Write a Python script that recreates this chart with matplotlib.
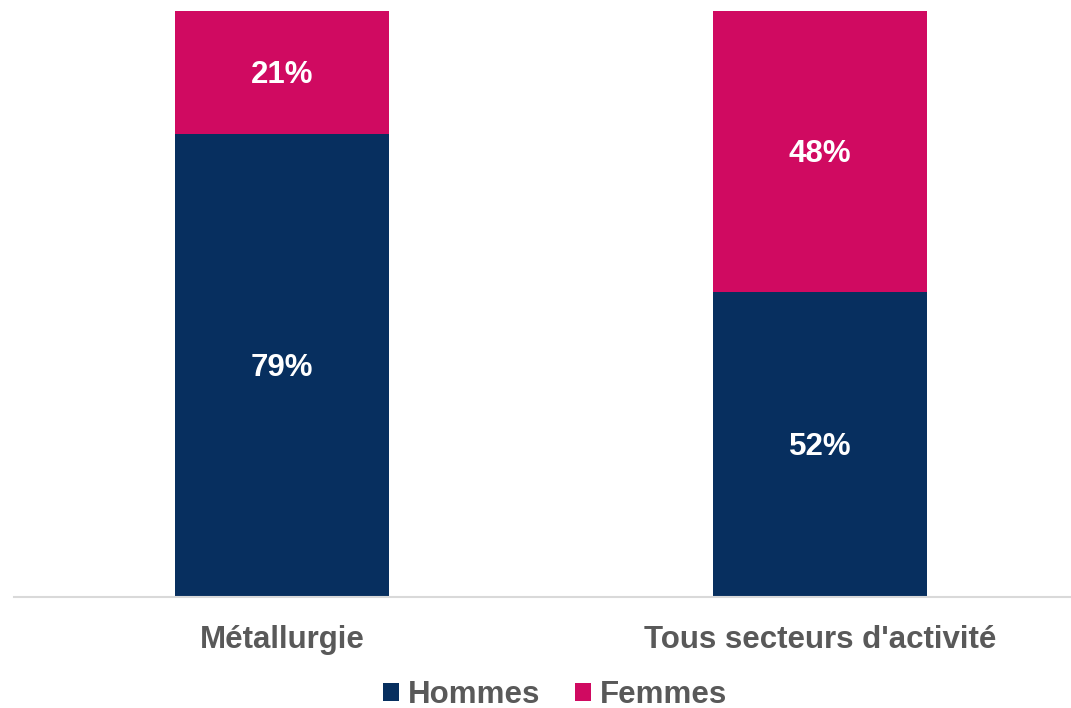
import numpy as np
import matplotlib.pyplot as plt
import matplotlib.transforms as mtransforms
from matplotlib import font_manager as fm

# data
categories = ["Métallurgie", "Tous secteurs d'activité"]
hommes = [79, 52]
femmes = [21, 48]

navy = "#072F5F"
pink = "#D00A61"
grey = "#595959"

# pick the regular-width Liberation Sans Bold (not the Narrow one)
bold_file = None
for f in fm.fontManager.ttflist:
    if f.fname.endswith("LiberationSans-Bold.ttf"):
        bold_file = f.fname
if bold_file:
    fp = fm.FontProperties(fname=bold_file)
else:
    fp = fm.FontProperties(family="DejaVu Sans", weight="bold")


def bold(size):
    p = fp.copy()
    p.set_size(size)
    return p


fig = plt.figure(figsize=(10.71, 7.08), dpi=100)
ax = fig.add_axes([13.5 / 1071, 111 / 708, 1057.5 / 1071, 586 / 708])

x = np.arange(len(categories))
w = 0.398
ax.bar(x, hommes, w, color=navy, label="Hommes")
ax.bar(x, femmes, w, bottom=hommes, color=pink, label="Femmes")

# percent labels in the middle of each segment (nudged down a little)
lab_tr = ax.transData + mtransforms.ScaledTranslation(0, -2.5 / 100,
                                                      fig.dpi_scale_trans)
for i in range(len(categories)):
    ax.text(x[i], hommes[i] / 2, f"{hommes[i]}%", ha="center", va="center",
            color="white", fontproperties=bold(22.5), transform=lab_tr)
    ax.text(x[i], hommes[i] + femmes[i] / 2, f"{femmes[i]}%", ha="center",
            va="center", color="white", fontproperties=bold(22.5),
            transform=lab_tr)

ax.set_xlim(-0.5, 1.467)
ax.set_ylim(0, 100)
ax.set_yticks([])
ax.set_xticks(x)
ax.set_xticklabels(categories, color=grey, fontproperties=bold(22.5))
ax.tick_params(axis="x", length=0, pad=20)
for s in ["top", "right", "left"]:
    ax.spines[s].set_visible(False)
ax.spines["bottom"].set_color("#D9D9D9")
ax.spines["bottom"].set_linewidth(1.5)

leg = fig.legend(loc="center", bbox_to_anchor=(555 / 1071, 1 - 695 / 708),
                 ncol=2, frameon=False, handlelength=0.51, handleheight=0.51,
                 handletextpad=0.29, columnspacing=1.09,
                 prop=bold(22.5))
for t in leg.get_texts():
    t.set_color(grey)

fig.savefig("out.png", dpi=100)
